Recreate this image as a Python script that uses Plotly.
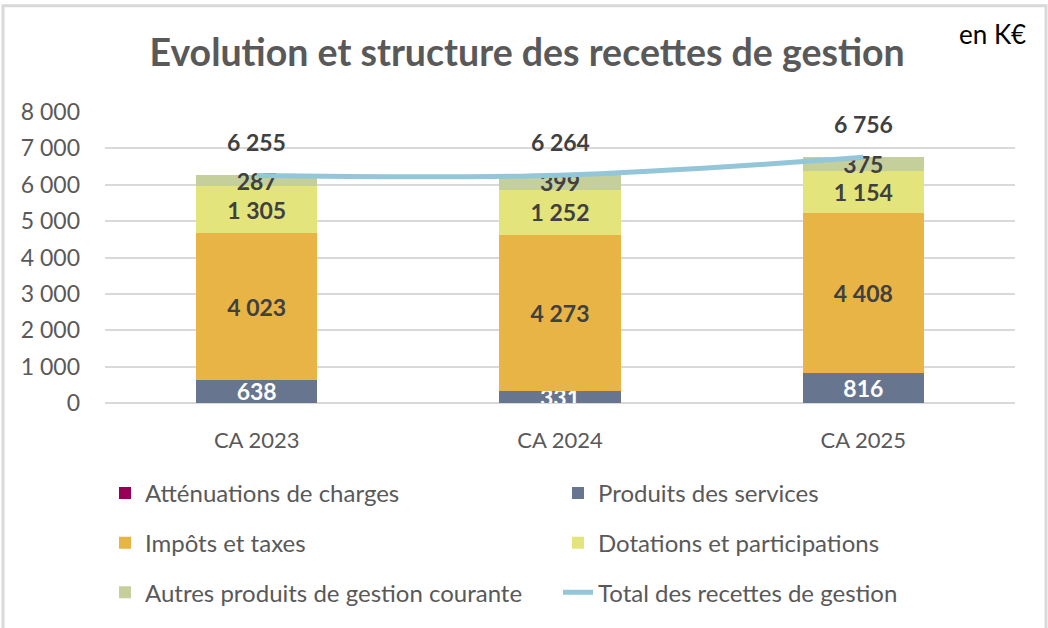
import plotly.graph_objects as go

categories = ["CA 2023", "CA 2024", "CA 2025"]
attenuations = [2, 9, 3]
produits_services = [638, 331, 816]
impots_taxes = [4023, 4273, 4408]
dotations = [1305, 1252, 1154]
autres_produits = [287, 399, 375]
total_recettes = [6255, 6264, 6756]
y_ticks = [0, 1000, 2000, 3000, 4000, 5000, 6000, 7000, 8000]

FONT = "Lato"
W, H = 1048, 628
L, R, T, B = 105, 33, 112, 223
PW, PH = W - L - R, H - T - B

def px_x(px):
    return (px - L) / PW

def px_y(py):
    return (H - B - py) / PH

fig = go.Figure()

bar_specs = [
    ("Atténuations de charges", attenuations, "#990055", None, "legend"),
    ("Produits des services", produits_services, "#67758F", "white", "legend2"),
    ("Impôts et taxes", impots_taxes, "#E8B445", "#404040", "legend3"),
    ("Dotations et participations", dotations, "#E3E47B", "#404040", "legend4"),
    ("Autres produits de gestion courante", autres_produits, "#C5CF9C", "#404040", "legend5"),
]
for name, vals, color, tcolor, lg in bar_specs:
    kw = {}
    if tcolor is not None:
        kw = dict(
            texttemplate="%{y:,.0f}",
            textposition="inside",
            insidetextanchor="middle",
            constraintext="none",
            textfont=dict(family=FONT, size=23, color=tcolor, weight="bold"),
        )
    fig.add_trace(go.Bar(
        x=categories, y=vals, name=name, marker=dict(color=color, line=dict(width=0)),
        legend=lg, showlegend=True, hoverinfo="skip", cliponaxis=True, **kw,
    ))

fig.add_trace(go.Scatter(
    x=categories, y=total_recettes, name="Total des recettes de gestion",
    mode="lines", line=dict(color="#92C6D8", width=5, shape="spline"),
    legend="legend6", showlegend=True, hoverinfo="skip",
))

for c, v in zip(categories, total_recettes):
    fig.add_annotation(
        x=c, y=v, text=f"{v:,}".replace(",", " "), showarrow=False,
        yshift=33, yanchor="middle",
        font=dict(family=FONT, size=23, color="#404040", weight="bold"),
    )

fig.add_annotation(
    xref="paper", yref="paper", x=px_x(1028), y=px_y(33), xanchor="right", yanchor="middle",
    text="en K€", showarrow=False, font=dict(family=FONT, size=26, color="#000000"),
)

# chart frame
fig.add_shape(type="rect", xref="paper", yref="paper",
              x0=px_x(3), x1=px_x(1046), y0=px_y(640), y1=px_y(5),
              line=dict(color="#D9D9D9", width=3), fillcolor="rgba(0,0,0,0)", layer="below")

def legend_at(xpx, ypx):
    return dict(
        visible=True,
        orientation="h", xanchor="left", yanchor="middle", x=px_x(xpx), y=px_y(ypx),
        traceorder="normal",
        font=dict(family=FONT, size=24, color="#595959"), bgcolor="rgba(0,0,0,0)",
        itemclick=False, itemdoubleclick=False,
    )

fig.update_layout(
    width=W, height=H,
    margin=dict(l=L, r=R, t=T, b=B),
    paper_bgcolor="white", plot_bgcolor="white",
    barmode="stack", bargap=0.6,
    separators=", ",
    showlegend=True,
    title=dict(
        text="Evolution et structure des recettes de gestion",
        x=0.503, xanchor="center", y=1 - 53 / H, yanchor="middle",
        font=dict(family=FONT, size=37.5, color="#595959", weight="bold"),
    ),
    legend=legend_at(105, 496),
    legend2=legend_at(558, 496),
    legend3=legend_at(105, 546),
    legend4=legend_at(558, 546),
    legend5=legend_at(105, 596),
    legend6=legend_at(558, 596),
    xaxis=dict(
        showgrid=False, showline=False, zeroline=False, ticks="",
        tickfont=dict(family=FONT, size=22, color="#595959"), ticklabelstandoff=22,
    ),
    yaxis=dict(
        range=[0, 8000], tickvals=y_ticks, tickformat=",d",
        showgrid=True, gridcolor="#D9D9D9", gridwidth=2,
        zeroline=True, zerolinecolor="#D9D9D9", zerolinewidth=2,
        showline=False, ticks="",
        tickfont=dict(family=FONT, size=23, color="#595959"), ticklabelstandoff=24,
    ),
)

fig.write_html("out.html", config={"displayModeBar": False},
               post_script="document.body.style.margin='0';")
